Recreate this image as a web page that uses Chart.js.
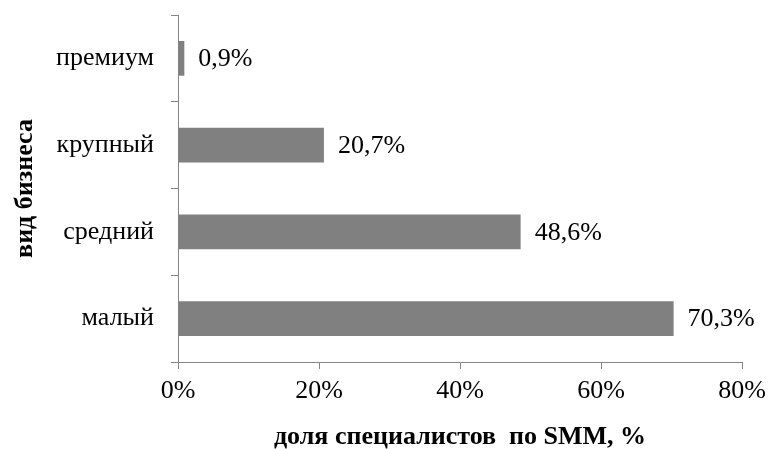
<!DOCTYPE html>
<html>
<head>
<meta charset="utf-8">
<script src="https://cdn.jsdelivr.net/npm/chart.js@4.4.1/dist/chart.umd.min.js"></script>
<style>
html,body{margin:0;padding:0;background:#fff;}
#wrap{width:768px;height:449px;position:relative;}
</style>
</head>
<body>
<div id="wrap"><canvas id="c"></canvas></div>
<script>
const categories = ['премиум', 'крупный', 'средний', 'малый'];
const values = [0.9, 20.7, 48.6, 70.3];
const valueLabels = ['0,9%', '20,7%', '48,6%', '70,3%'];
const xTicks = [0, 20, 40, 60, 80];
const xTitle = 'доля специалистов  по SMM, %';
const yTitle = 'вид бизнеса';

const FONT = "'Liberation Serif', 'Times New Roman', serif";
const AXIS = '#868686';

const labelPlugin = {
  id: 'valueLabels',
  afterDatasetsDraw(chart) {
    const ctx = chart.ctx;
    const meta = chart.getDatasetMeta(0);
    ctx.save();
    ctx.font = '26px ' + FONT;
    ctx.fillStyle = '#000';
    ctx.textAlign = 'left';
    ctx.textBaseline = 'middle';
    meta.data.forEach((bar, i) => {
      ctx.fillText(valueLabels[i], bar.x + 14, bar.y + 1);
    });
    ctx.restore();
  }
};

new Chart(document.getElementById('c'), {
  type: 'bar',
  data: {
    labels: categories,
    datasets: [{
      data: values,
      backgroundColor: '#808080',
      borderWidth: 0,
      categoryPercentage: 1,
      barPercentage: 0.4
    }]
  },
  options: {
    indexAxis: 'y',
    responsive: true,
    maintainAspectRatio: false,
    animation: false,
    layout: { padding: { top: 15, right: 26, left: 0, bottom: 0 } },
    plugins: { legend: { display: false }, tooltip: { enabled: false } },
    scales: {
      x: {
        min: 0, max: 80,
        afterBuildTicks(scale) { scale.ticks = xTicks.map(v => ({ value: v })); },
        afterFit(scale) { scale.height = 87; scale.paddingLeft = 0; scale.paddingRight = 0; },
        ticks: {
          callback: v => v + '%',
          color: '#000',
          font: { family: FONT, size: 26 },
          padding: 7,
          maxRotation: 0
        },
        grid: { drawOnChartArea: false, drawTicks: true, tickLength: 7, color: AXIS },
        border: { display: true, color: AXIS, width: 1 },
        title: {
          display: true, text: xTitle, color: '#000',
          font: { family: FONT, size: 26, weight: 'bold', lineHeight: 0.9 },
          padding: { top: 0, bottom: 0 }
        }
      },
      y: {
        afterFit(scale) { scale.width = 178; scale.paddingTop = 0; scale.paddingBottom = 0; },
        ticks: {
          color: '#000',
          font: { family: FONT, size: 26 },
          padding: 17
        },
        grid: { drawOnChartArea: false, drawTicks: true, tickLength: 7, color: AXIS, offset: true },
        border: { display: true, color: AXIS, width: 1 },
        title: {
          display: true, text: yTitle, color: '#000',
          font: { family: FONT, size: 26, weight: 'bold' },
          padding: { top: 10, bottom: 0 }
        }
      }
    }
  },
  plugins: [labelPlugin]
});
</script>
</body>
</html>
